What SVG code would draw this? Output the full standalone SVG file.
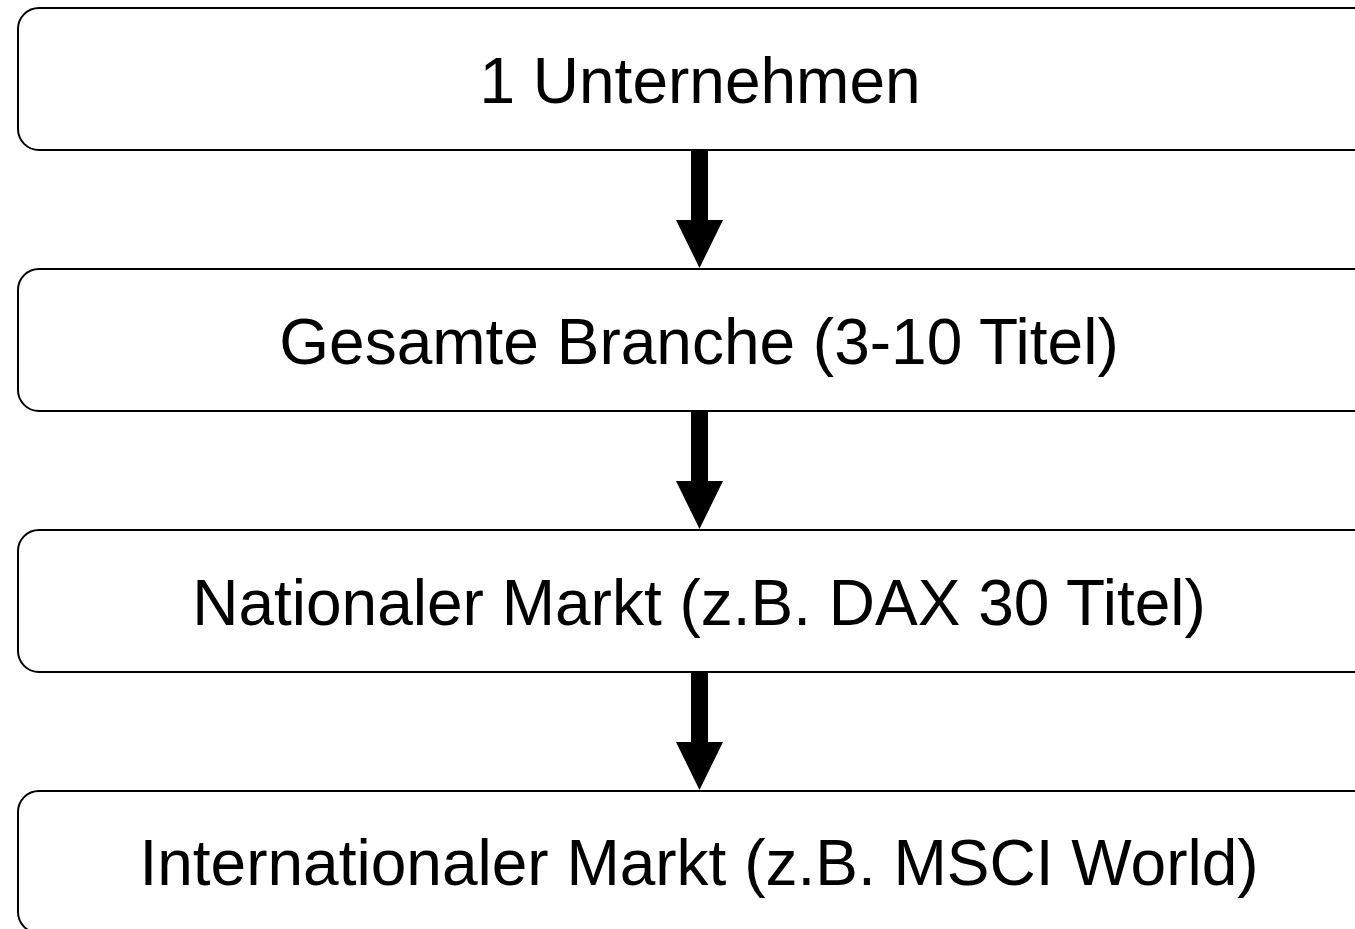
<svg xmlns="http://www.w3.org/2000/svg" width="1355" height="929" viewBox="0 0 1355 929">
<style>
.box{fill:#fff;stroke:#000;stroke-width:2}
.lbl{font-family:"Liberation Sans",Arial,sans-serif;font-size:64px;fill:#000;text-anchor:middle}
.arr{fill:#000;stroke:none}
</style>
<rect width="1355" height="929" fill="#fff"/>
<g id="node1"><rect class="box" x="18" y="8" width="1366" height="142" rx="21"/><text class="lbl" x="700" y="103">1 Unternehmen</text></g>
<g id="node2"><rect class="box" x="18" y="269" width="1366" height="142" rx="21"/><text class="lbl" x="699" y="364">Gesamte Branche (3-10 Titel)</text></g>
<g id="node3"><rect class="box" x="18" y="530" width="1366" height="142" rx="21"/><text class="lbl" x="699" y="625">Nationaler Markt (z.B. DAX 30 Titel)</text></g>
<g id="node4"><rect class="box" x="18" y="791" width="1366" height="142" rx="21"/><text class="lbl" x="699" y="885">Internationaler Markt (z.B. MSCI World)</text></g>
<g id="connectors">
<polygon class="arr" points="691,151 708,151 708,220 723,220 699.5,268 676,220 691,220"/>
<polygon class="arr" points="691,412 708,412 708,481 723,481 699.5,529 676,481 691,481"/>
<polygon class="arr" points="691,673 708,673 708,742 723,742 699.5,790 676,742 691,742"/>
</g>
</svg>
